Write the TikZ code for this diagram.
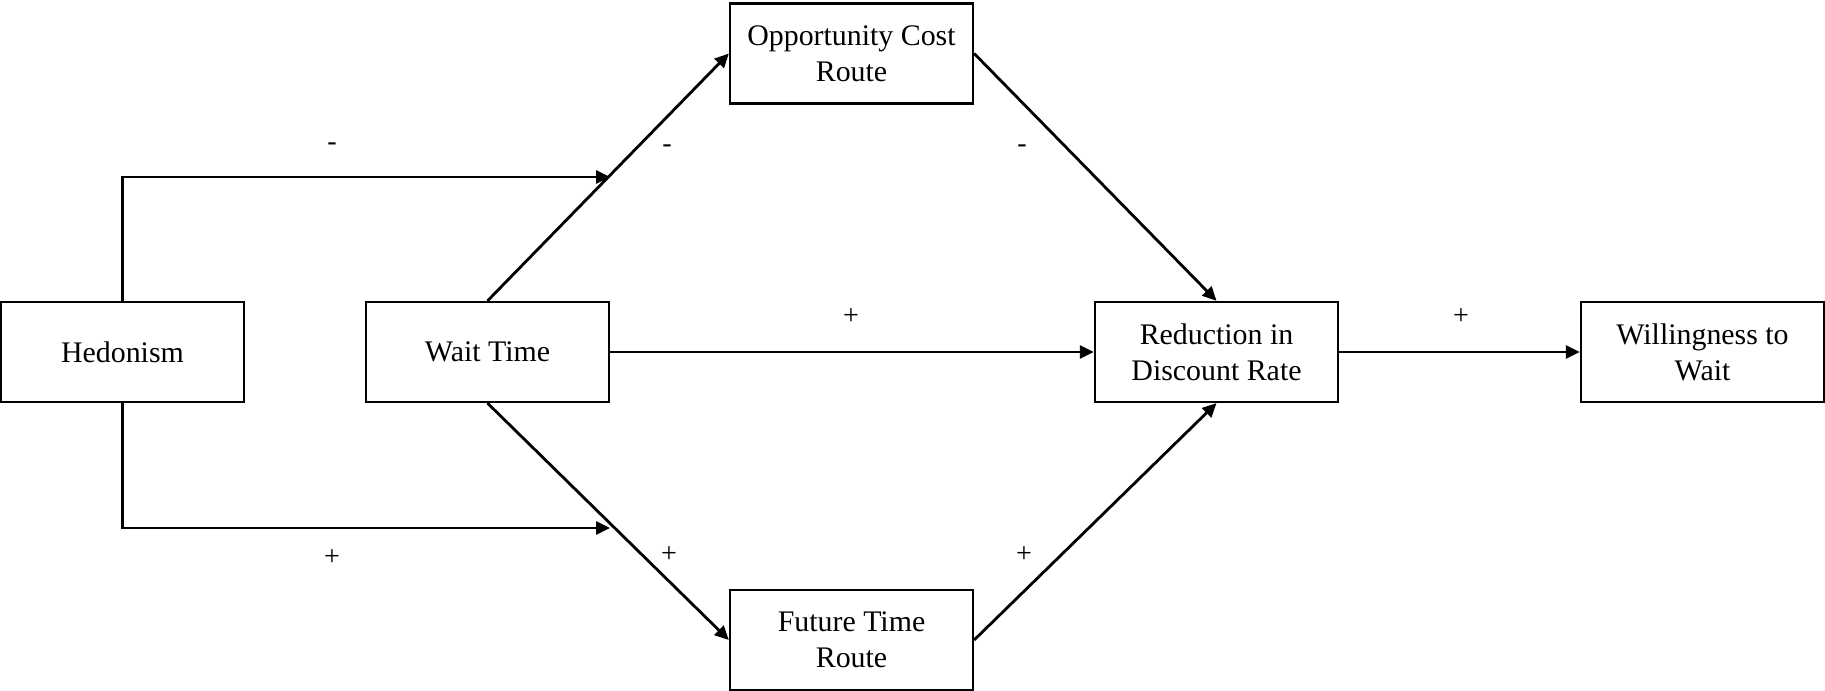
\documentclass[tikz,border=0pt]{standalone}
\usepackage{fontspec}
\setmainfont{Liberation Serif}
\usetikzlibrary{arrows.meta, positioning}
\tikzset{
  box/.style={draw, line width=0.65pt, minimum width=24.3mm, minimum height=10mm,
              inner sep=1pt, align=center, font=\fontsize{8.5}{10.2}\selectfont},
  link/.style={-{Triangle[length=1.4mm, width=1.3mm]}, line width=0.8pt},
  sign/.style={font=\fontsize{8}{9.6}\selectfont, inner sep=0pt}
}

\begin{document}
\begin{tikzpicture}
    \useasboundingbox (0,0) rectangle (18.25,-6.91);
    % boxes
    \node[box] (hed)  at (1.225,-3.52)  {Hedonism};
    \node[box] (wait) at (4.875,-3.52)  {Wait Time};
    \node[box] (opp)  at (8.515,-0.535) {Opportunity Cost\\Route};
    \node[box] (red)  at (12.165,-3.52) {Reduction in\\Discount Rate};
    \node[box] (will) at (17.025,-3.52) {Willingness to\\Wait};
    \node[box] (fut)  at (8.515,-6.40)  {Future Time\\Route};
    % ends of the hedonism paths
    \coordinate (hup) at (6.10,-1.77);
    \coordinate (hdn) at (6.10,-5.28);
    % paths
    \draw[link] (hed.north) |- (hup);
    \draw[link] (hed.south) |- (hdn);
    \draw[link] (wait.north) -- (opp.west);
    \draw[link] (wait.south) -- (fut.west);
    \draw[link] (wait.east) -- (red.west);
    \draw[link] (opp.east) -- (red.north);
    \draw[link] (fut.east) -- (red.south);
    \draw[link] (red.east) -- (will.west);
    % signs
    \node[sign] (s1) at (3.32,-1.47)  {-};
    \node[sign] (s2) at (6.67,-1.49)  {-};
    \node[sign] (s3) at (10.22,-1.49) {-};
    \node[sign] (s4) at (8.51,-3.17)  {+};
    \node[sign] (s5) at (14.61,-3.17) {+};
    \node[sign] (s6) at (3.32,-5.58)  {+};
    \node[sign] (s7) at (6.69,-5.55)  {+};
    \node[sign] (s8) at (10.24,-5.55) {+};
\end{tikzpicture}
\end{document}
